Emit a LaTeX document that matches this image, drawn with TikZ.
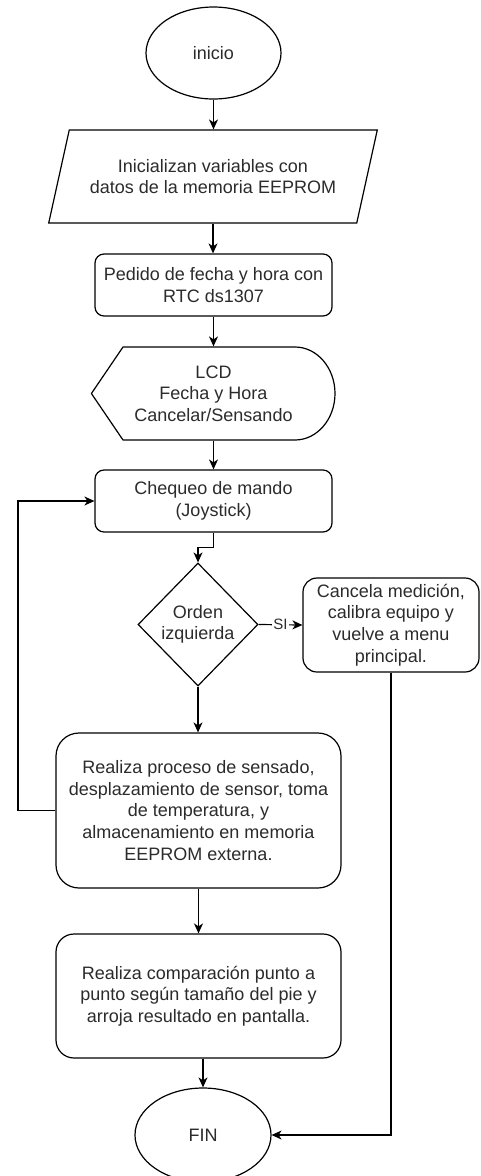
\documentclass[tikz,border=0pt]{standalone}
\usepackage{fontspec}
\setmainfont{Liberation Sans}
\usetikzlibrary{shapes.geometric,arrows.meta}
\definecolor{txt}{HTML}{2B2B2B}
\begin{document}
\begin{tikzpicture}[x=1pt,y=-1pt,
  base/.style={draw=black, line width=1.2pt, text=txt, align=center, inner sep=0pt, font=\fontsize{18}{21.6}\selectfont},
  term/.style={base, ellipse},
  proc/.style={base, rectangle, rounded corners=9pt},
  conn/.style={line width=1.2pt, -{Stealth[length=10pt,width=9pt,inset=3pt]}},
  lbl/.style={fill=white, text=txt, inner sep=1pt, font=\fontsize{15}{18}\selectfont},
]
\useasboundingbox (0,0) rectangle (480,1176);
\node[term, minimum width=135pt, minimum height=92pt] (ini) at (213.5,53) {inicio};
\node[base, trapezium, trapezium left angle=63.2, trapezium right angle=116.8, trapezium stretches, minimum width=330pt, minimum height=93pt] (par) at (213,176.5) {Inicializan variables con\\datos de la memoria EEPROM};
\node[proc, minimum width=237pt, minimum height=62pt] (ped) at (213.5,285) {Pedido de fecha y hora con\\RTC ds1307};
\node[base, draw=none, minimum width=243pt, minimum height=93pt] (lcd) at (213.5,393.5) {LCD\\Fecha y Hora\\Cancelar/Sensando};
\draw[line width=1.2pt, line join=round] (lcd.west) -- (123,347) -- (295,347) .. controls (317,347) and (335,367.8) .. (335,393.5) .. controls (335,419.2) and (317,440) .. (295,440) -- (123,440) -- cycle;
\node[proc, minimum width=237pt, minimum height=62pt] (che) at (213.5,501) {Chequeo de mando\\(Joystick)};
\node[base, diamond, minimum width=120pt, minimum height=123pt] (dec) at (198,624.5) {};
\node[base, draw=none] (dect) at (dec.center) {Orden\\izquierda};
\node[proc, rounded corners=14pt, minimum width=176pt, minimum height=94pt] (can) at (391,625) {Cancela medición,\\calibra equipo y\\vuelve a menu\\principal.};
\node[proc, rounded corners=23pt, minimum width=285pt, minimum height=155pt] (rea) at (198.5,810.5) {Realiza proceso de sensado,\\desplazamiento de sensor, toma\\de temperatura, y\\almacenamiento en memoria\\EEPROM externa.};
\node[proc, rounded corners=18pt, minimum width=285pt, minimum height=124pt] (com) at (198.5,996) {Realiza comparación punto a\\punto según tamaño del pie y\\arroja resultado en pantalla.};
\node[term, minimum width=136pt, minimum height=94pt] (fin) at (203,1135) {FIN};
\coordinate (lp) at (18,0);
\draw[conn] (ini.south) -- (ini.south |- par.north);
\draw[conn] (par.south) -- (par.south |- ped.north);
\draw[conn] (ped.south) -- (ped.south |- lcd.north);
\draw[conn] (lcd.south) -- (lcd.south |- che.north);
\draw[conn] (che.south) -- ++(0,15) -| (dec.north);
\draw[conn] (dec.east) -- node[lbl] {SI} (can.west);
\draw[conn] (dec.south) -- (dec.south |- rea.north);
\draw[conn] (rea.west) -- (rea.west -| lp) |- (che.west);
\draw[conn] (rea.south) -- (com.north);
\draw[conn] (com.south -| fin.north) -- (fin.north);
\draw[conn] (can.south) |- (fin.east);
\end{tikzpicture}
\end{document}
